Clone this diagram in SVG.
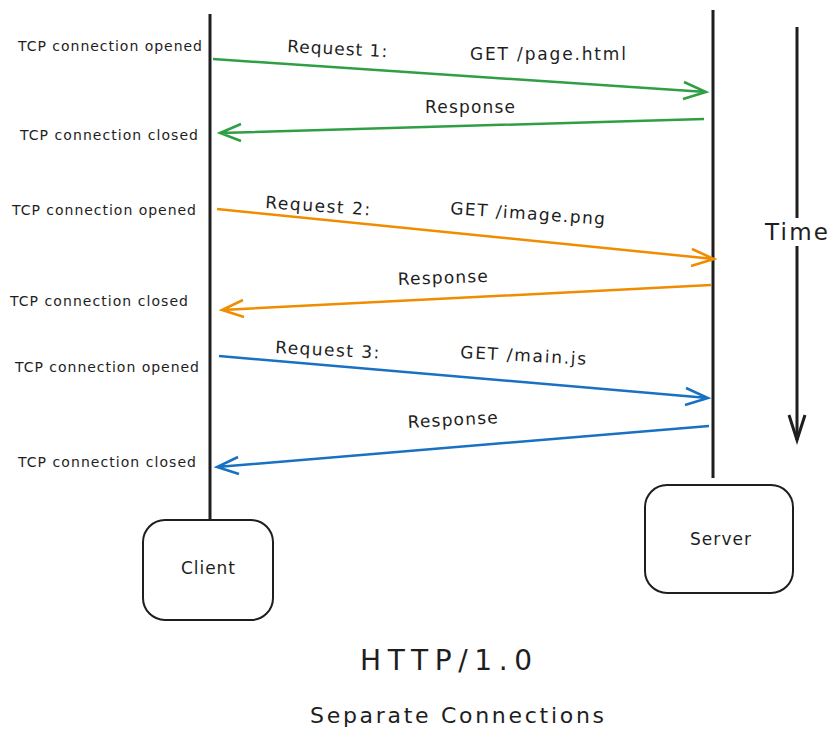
<svg xmlns="http://www.w3.org/2000/svg" width="838" height="743" viewBox="0 0 838 743">
<style>
text{font-family:"DejaVu Sans","Liberation Sans",sans-serif;fill:#1e1e1e}
.lbl{font-size:14px}
.m{font-size:17px}
.life{stroke:#1e1e1e;stroke-width:3;fill:none}
.box{fill:#fff;stroke:#1e1e1e;stroke-width:2}
.g{stroke:#2f9e44;stroke-width:2.5;fill:none}
.o{stroke:#f08c00;stroke-width:2.5;fill:none}
.b{stroke:#1971c2;stroke-width:2.5;fill:none}
</style>
<rect width="838" height="743" fill="#fff"/>
<g id="client">
<line class="life" x1="210" y1="14" x2="210" y2="522"/>
<rect class="box" x="143" y="520" width="130" height="100" rx="22"/>
<text x="181" y="574" font-size="17" textLength="54">Client</text>
</g>
<g id="server">
<line class="life" x1="713" y1="10" x2="713" y2="478"/>
<rect class="box" x="645" y="485" width="148" height="108" rx="22"/>
<text x="690" y="545" font-size="17" textLength="61">Server</text>
</g>
<g id="time">
<line class="life" x1="797" y1="27" x2="797" y2="440" stroke-width="2.5"/>
<path class="life" stroke-width="2.5" d="M789 415 L797 440 L805 415"/>
<rect x="764" y="218" width="66" height="28" fill="#fff"/>
<text x="765" y="240" font-size="23" textLength="63">Time</text>
</g>
<g id="labels">
<text class="lbl" x="18" y="51" textLength="184">TCP connection opened</text>
<text class="lbl" x="20" y="140" textLength="178">TCP connection closed</text>
<text class="lbl" x="12" y="215" textLength="184">TCP connection opened</text>
<text class="lbl" x="10" y="306" textLength="178">TCP connection closed</text>
<text class="lbl" x="15" y="372" textLength="184">TCP connection opened</text>
<text class="lbl" x="18" y="467" textLength="178">TCP connection closed</text>
</g>
<g id="connectors">
<path class="g" d="M213 59 L706 92 M684 82 L706 92 L683 99"/>
<path class="g" d="M704 119 L220 133 M241 124 L220 133 L241 141"/>
<path class="o" d="M217 209 L714 259 M692 249 L714 259 L691 266"/>
<path class="o" d="M711 285 L222 310 M243 300 L222 310 L244 317"/>
<path class="b" d="M219 356 L708 398 M686 388 L708 398 L685 405"/>
<path class="b" d="M709 426 L217 467 M238 457 L217 467 L239 474"/>
</g>
<g id="msg">
<text class="m" x="287" y="52" transform="rotate(3 287 52)" textLength="100">Request 1:</text>
<text class="m" x="470" y="60" textLength="156">GET /page.html</text>
<text class="m" x="425" y="113" textLength="90">Response</text>
<text class="m" x="265" y="208" transform="rotate(4 265 208)" textLength="105">Request 2:</text>
<text class="m" x="450" y="214" transform="rotate(4 450 214)" textLength="155">GET /image.png</text>
<text class="m" x="398" y="285" transform="rotate(-2 398 285)" textLength="90">Response</text>
<text class="m" x="275" y="353" transform="rotate(3 275 353)" textLength="104">Request 3:</text>
<text class="m" x="460" y="358" transform="rotate(3 460 358)" textLength="126">GET /main.js</text>
<text class="m" x="408" y="428" transform="rotate(-3 408 428)" textLength="90">Response</text>
</g>
<text x="360" y="670" font-size="28" textLength="172">HTTP/1.0</text>
<text x="310" y="723" font-size="22" textLength="294">Separate Connections</text>
</svg>
